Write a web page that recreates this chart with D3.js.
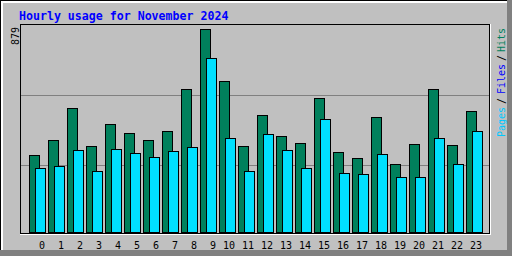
<!DOCTYPE html>
<html>
<head>
<meta charset="utf-8">
<script src="https://cdn.jsdelivr.net/npm/d3@7"></script>
<style>
  body { margin: 0; padding: 0; background: #fff; }
  svg { display: block; }
  text { font-family: "DejaVu Sans Mono", "Liberation Mono", monospace; }
</style>
</head>
<body>
<div id="chart"></div>
<script>
// hourly values
var hours = d3.range(0, 24);
var hits  = [332, 397, 536, 371, 466, 427, 397, 436, 618, 879, 652, 371,
             505, 414, 384, 579, 345, 319, 497, 293, 380, 618, 375, 523];
var pages = [276, 284, 354, 263, 358, 341, 323, 349, 367, 752, 406, 263,
             423, 354, 276, 488, 254, 250, 336, 237, 237, 406, 293, 436];
var maxVal = d3.max(hits);
var title = "Hourly usage for November 2024";
var legend = [
    { label: "Pages", color: "#00C8FF", bottom: 137 },
    { label: "/",     color: "#000000", bottom: 104 },
    { label: "Files", color: "#0000FF", bottom: 94 },
    { label: "/",     color: "#000000", bottom: 61 },
    { label: "Hits",  color: "#00805C", bottom: 52 }
];

var width = 512, height = 256;
var grey = "#C0C0C0", dkgrey = "#808080", hitColor = "#00805C", pageColor = "#00E0FF";

var svg = d3.select("#chart").append("svg")
    .attr("width", width)
    .attr("height", height)
    .attr("shape-rendering", "crispEdges");

// background + 3d frame
svg.append("rect").attr("x", 0).attr("y", 0).attr("width", width).attr("height", height).attr("fill", grey);
svg.append("rect").attr("x", 507).attr("y", 0).attr("width", 5).attr("height", height).attr("fill", dkgrey);
svg.append("rect").attr("x", 0).attr("y", 250).attr("width", width).attr("height", 6).attr("fill", dkgrey);
svg.append("rect").attr("x", 0).attr("y", 0).attr("width", 507).attr("height", 1).attr("fill", "#000");
svg.append("rect").attr("x", 0).attr("y", 0).attr("width", 1).attr("height", 250).attr("fill", "#000");
svg.append("rect").attr("x", 1).attr("y", 1).attr("width", 506).attr("height", 2).attr("fill", "#fff");
svg.append("rect").attr("x", 1).attr("y", 1).attr("width", 2).attr("height", 249).attr("fill", "#fff");

// scales
var x = d3.scaleLinear().domain([0, 1]).range([29, 48]);
var y = d3.scaleLinear().domain([0, maxVal]).range([232, 29]);

// grid lines (thirds of the plot box)
var grid = [95, 165];
svg.selectAll(".grid").data(grid).enter().append("line")
    .attr("x1", 21).attr("x2", 489)
    .attr("y1", function (d) { return d + 0.5; })
    .attr("y2", function (d) { return d + 0.5; })
    .attr("stroke", dkgrey);

// inner box
svg.append("path")
    .attr("d", "M20.5,234V24.5H489.5V233.5H20.5")
    .attr("fill", "none").attr("stroke", "#000");
svg.append("path")
    .attr("d", "M20,234.5H490.5V24")
    .attr("fill", "none").attr("stroke", "#fff");

function drawBars(values, offset, color) {
    svg.append("g").selectAll("rect")
        .data(values)
        .enter().append("rect")
        .attr("x", function (d, i) { return x(i) + offset + 0.5; })
        .attr("y", function (d) { return Math.round(y(d)) + 0.5; })
        .attr("width", 10)
        .attr("height", function (d) { return 232 - Math.round(y(d)); })
        .attr("fill", color)
        .attr("stroke", "#000");
}
drawBars(hits, 0, hitColor);
drawBars(pages, 6, pageColor);

// hour labels
svg.selectAll(".hr").data(hours).enter().append("text")
    .attr("x", function (d) { return x(d) + 10 - 6 * (String(d).length - 1); })
    .attr("y", 249)
    .attr("font-size", "10px")
    .attr("fill", "#000")
    .text(function (d) { return d; });

// title
svg.append("text")
    .attr("x", 19).attr("y", 19.5)
    .attr("font-size", "11.6px")
    .attr("font-weight", "bold")
    .attr("fill", "#0000FF")
    .text(title);

// max value, vertical
svg.append("text")
    .attr("transform", "translate(19,27) rotate(-90)")
    .attr("text-anchor", "end")
    .attr("font-size", "10px")
    .attr("fill", "#000")
    .text(maxVal);

// legend, vertical on the right
svg.selectAll(".lg").data(legend).enter().append("text")
    .attr("transform", function (d) { return "translate(505," + d.bottom + ") rotate(-90)"; })
    .attr("font-size", "10px")
    .attr("fill", function (d) { return d.color; })
    .text(function (d) { return d.label; });
</script>
</body>
</html>
